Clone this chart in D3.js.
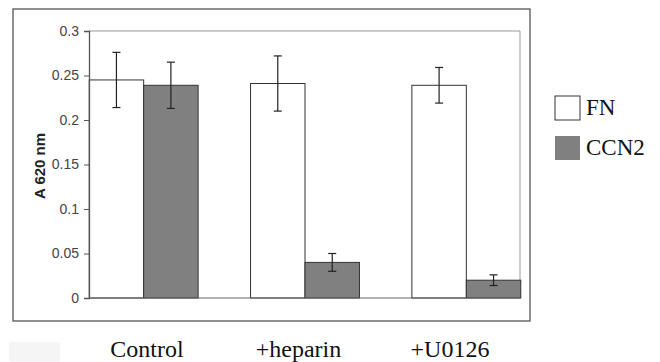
<!DOCTYPE html>
<html>
<head>
    <title>FN / CCN2 bar chart</title>
    <script src="https://d3js.org/d3.v7.min.js"></script>
    <style>
        body { margin: 0; background: #fff; }
    </style>
</head>
<body>
    <div id="chart"></div>

    <script>
        const categories = ["Control", "+heparin", "+U0126"];
        const series = ["FN", "CCN2"];
        const fnValues = [0.245, 0.241, 0.239];
        const fnErrors = [0.031, 0.031, 0.020];
        const ccn2Values = [0.239, 0.040, 0.020];
        const ccn2Errors = [0.026, 0.010, 0.006];
        const tickValues = [0, 0.05, 0.1, 0.15, 0.2, 0.25, 0.3];
        const tickLabels = ["0", "0.05", "0.1", "0.15", "0.2", "0.25", "0.3"];

        const colors = {FN: "#ffffff", CCN2: "#808080"};
        const serif = "'Times New Roman', Times, 'Liberation Serif', Tinos, 'DejaVu Serif', 'Noto Serif', serif";
        const sans = "'Liberation Sans', Arial, sans-serif";

        const W = 660, H = 362;
        const plot = {left: 89, right: 520, top: 31, bottom: 298};

        const svg = d3.select("#chart").append("svg")
            .attr("width", W)
            .attr("height", H);

        // faint patch bottom-left of the scan
        svg.append("rect")
            .attr("x", 9).attr("y", 342).attr("width", 51).attr("height", 20)
            .attr("fill", "#f5f5f5");

        // outer chart frame
        svg.append("rect")
            .attr("x", 13).attr("y", 9)
            .attr("width", 517).attr("height", 312)
            .attr("fill", "none")
            .attr("stroke", "#555")
            .attr("stroke-width", 1.3);

        const x = d3.scaleBand()
            .domain(categories)
            .range([63, 547])
            .paddingInner(0.325)
            .paddingOuter(0.1625);

        const xs = d3.scaleBand()
            .domain(series)
            .range([0, x.bandwidth()]);

        // category labels sit a little off the bar groups in the original
        const xLabel = d3.scalePoint()
            .domain(categories)
            .range([147, 450]);

        const y = d3.scaleLinear()
            .domain([0, 0.3])
            .range([plot.bottom, plot.top]);

        // plot area top and right edges
        svg.append("path")
            .attr("d", `M${plot.left},${y(0.3)}H${plot.right}V${y(0)}`)
            .attr("fill", "none")
            .attr("stroke", "#999")
            .attr("stroke-width", 1);

        const data = [];
        categories.forEach((c, i) => {
            data.push({cat: c, s: "FN", v: fnValues[i], e: fnErrors[i]});
            data.push({cat: c, s: "CCN2", v: ccn2Values[i], e: ccn2Errors[i]});
        });

        svg.selectAll("rect.bar")
            .data(data)
            .enter().append("rect")
            .attr("class", "bar")
            .attr("x", d => x(d.cat) + xs(d.s))
            .attr("width", xs.bandwidth())
            .attr("y", d => y(d.v))
            .attr("height", d => y(0) - y(d.v))
            .attr("fill", d => colors[d.s])
            .attr("stroke", "#333")
            .attr("stroke-width", 1);

        // baseline
        svg.append("line")
            .attr("x1", plot.left).attr("x2", plot.right)
            .attr("y1", y(0)).attr("y2", y(0))
            .attr("stroke", "#666");

        // error bars
        const err = svg.selectAll("g.err")
            .data(data)
            .enter().append("g")
            .attr("class", "err")
            .attr("stroke", "#222")
            .attr("stroke-width", 1.2);

        const cx = d => x(d.cat) + xs(d.s) + xs.bandwidth() / 2;
        err.append("line")
            .attr("x1", cx).attr("x2", cx)
            .attr("y1", d => y(d.v + d.e)).attr("y2", d => y(d.v - d.e));
        err.append("line")
            .attr("x1", d => cx(d) - 4).attr("x2", d => cx(d) + 4)
            .attr("y1", d => y(d.v + d.e)).attr("y2", d => y(d.v + d.e));
        err.append("line")
            .attr("x1", d => cx(d) - 4).attr("x2", d => cx(d) + 4)
            .attr("y1", d => y(d.v - d.e)).attr("y2", d => y(d.v - d.e));

        // y axis
        const yAxis = svg.append("g")
            .attr("transform", `translate(${plot.left},0)`)
            .call(d3.axisLeft(y)
                .tickValues(tickValues)
                .tickFormat((d, i) => tickLabels[i])
                .tickSize(5)
                .tickPadding(5));
        yAxis.attr("font-family", sans).attr("font-size", 14);
        yAxis.select(".domain").attr("stroke", "#555").attr("stroke-width", 1.3);
        yAxis.selectAll(".tick line").attr("stroke", "#555");
        yAxis.selectAll("text").attr("fill", "#444");

        svg.append("text")
            .attr("transform", `translate(45,166) rotate(-90)`)
            .attr("text-anchor", "middle")
            .attr("fill", "#222")
            .attr("font-family", sans)
            .attr("font-weight", "bold")
            .attr("font-size", 15)
            .text("A 620 nm");

        // category labels
        svg.selectAll("text.cat")
            .data(categories)
            .enter().append("text")
            .attr("class", "cat")
            .attr("x", d => xLabel(d))
            .attr("y", 357)
            .attr("text-anchor", "middle")
            .attr("fill", "#111")
            .attr("font-family", serif)
            .attr("font-size", 24)
            .text(d => d);

        // legend
        const legend = svg.selectAll("g.legend")
            .data(series)
            .enter().append("g")
            .attr("class", "legend")
            .attr("transform", (d, i) => `translate(555,${96 + i * 40})`);
        legend.append("rect")
            .attr("width", 25).attr("height", 24)
            .attr("fill", d => colors[d])
            .attr("stroke", d => d === "FN" ? "#333" : "none");
        legend.append("text")
            .attr("x", 31).attr("y", 19)
            .attr("fill", "#111")
            .attr("font-family", serif)
            .attr("font-size", 23)
            .text(d => d);
    </script>
</body>
</html>
